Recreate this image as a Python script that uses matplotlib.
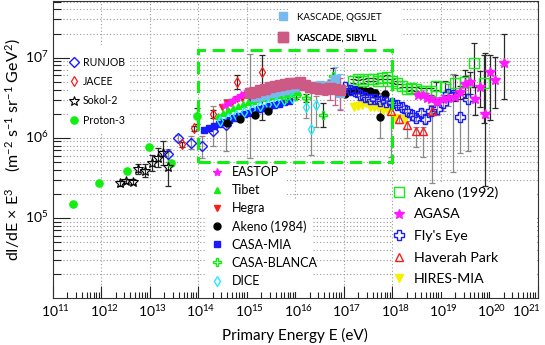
import numpy as np
import matplotlib
matplotlib.use('Agg')
import matplotlib.pyplot as plt
from matplotlib.patches import Rectangle
import matplotlib.transforms as mtrans
from matplotlib.ticker import LogLocator, NullFormatter, FixedLocator, FixedFormatter

plt.rcParams['font.family'] = ['Lato', 'DejaVu Sans']
plt.rcParams['mathtext.fontset'] = 'custom'
plt.rcParams['mathtext.rm'] = 'Lato'
plt.rcParams['mathtext.it'] = 'Lato:italic'
plt.rcParams['mathtext.bf'] = 'Lato:bold'

# ---------------- data (log10 E [eV], log10 flux, errors in dex) ----------------
runjob_logE = [13.38, 13.59, 13.85, 14.07, 14.31, 14.57, 15.08]
runjob_logF = [5.80, 6.00, 5.94, 5.90, 6.09, 6.16, 6.54]
runjob_hi = [0.06, 0.04, 0.08, 0.12, 0.31, 0.33, 0.51]
runjob_lo = [0.10, 0.04, 0.08, 0.15, 0.19, 0.33, 0.79]

jacee_logE = [13.66, 13.91, 14.31, 14.80, 15.31]
jacee_logF = [5.92, 6.12, 6.30, 6.70, 6.82]
jacee_hi = [0.03, 0.03, 0.05, 0.09, 0.21]
jacee_lo = [0.03, 0.03, 0.05, 0.09, 0.60]

sokol_logE = [12.39, 12.52, 12.65, 12.76, 12.91, 13.05, 13.17, 13.27, 13.38]
sokol_logF = [5.43, 5.46, 5.45, 5.61, 5.59, 5.69, 5.75, 5.81, 5.64]
sokol_hi = [0.03, 0.03, 0.03, 0.06, 0.08, 0.10, 0.12, 0.15, 0.20]
sokol_lo = [0.03, 0.03, 0.03, 0.06, 0.08, 0.10, 0.12, 0.15, 0.24]

proton3_logE = [11.42, 11.95, 12.54, 12.99, 13.45, 13.97]
proton3_logF = [5.18, 5.44, 5.58, 5.89, 5.68, 6.27]
proton3_hi = [0, 0, 0, 0, 0, 0.10]
proton3_lo = [0, 0, 0, 0, 0, 0.10]

eastop_logE = [14.56, 14.64, 14.72, 14.80, 14.89, 14.97, 15.05]
eastop_logF = [6.41, 6.44, 6.47, 6.50, 6.53, 6.56, 6.58]

tibet_logE = [14.41, 14.51, 14.62, 14.72, 14.82, 14.92, 15.03, 15.13, 15.24,
              15.34, 15.44, 15.54, 15.65, 15.75, 15.85, 15.95, 16.06]
tibet_logF = [6.275, 6.31, 6.35, 6.375, 6.40, 6.425, 6.45, 6.46, 6.49,
              6.50, 6.51, 6.525, 6.54, 6.55, 6.56, 6.575, 6.575]

hegra_logE = [14.49, 14.59, 14.70, 14.80, 14.90, 15.01, 15.11, 15.21, 15.32,
              15.42, 15.52, 15.62, 15.73]
hegra_logF = [6.39, 6.43, 6.45, 6.48, 6.50, 6.53, 6.55, 6.58, 6.59,
              6.61, 6.64, 6.65, 6.66]

akeno84_logE = [14.60, 14.86, 15.17, 15.44, 17.03, 17.13, 17.23, 17.34, 17.44,
                17.54, 17.65, 17.75, 17.85]
akeno84_logF = [6.18, 6.24, 6.29, 6.34, 6.55, 6.59, 6.60, 6.60, 6.59,
                6.58, 6.56, 6.26, 6.55]
akeno84_hi = [0, 0, 0, 0, 0, 0, 0, 0, 0, 0.03, 0.05, 0.30, 0.10]
akeno84_lo = [0, 0, 0, 0, 0, 0, 0, 0, 0, 0.03, 0.05, 0.26, 0.10]

casamia_logE = [14.12, 14.22, 14.33, 14.43, 14.53, 14.64, 14.74, 14.84, 14.94,
                15.05, 15.15, 15.25, 15.36, 15.46, 15.56, 15.67, 15.77, 15.87]
casamia_logF = [6.10, 6.125, 6.15, 6.175, 6.20, 6.225, 6.25, 6.275, 6.30,
                6.31, 6.34, 6.36, 6.375, 6.40, 6.41, 6.425, 6.45, 6.46]

blanca_logE = [15.81, 16.02, 16.22, 16.57, 16.78]
blanca_logF = [6.50, 6.525, 6.50, 6.29, 6.775]
blanca_hi = [0.04, 0.04, 0.05, 0.14, 0.10]
blanca_lo = [0.04, 0.04, 0.05, 0.16, 0.06]

dice_logE = [14.45, 14.61, 14.78, 14.94, 15.11, 15.27, 15.44, 15.60, 15.77,
             15.93, 16.22, 16.33, 16.43]
dice_logF = [6.21, 6.25, 6.29, 6.325, 6.36, 6.40, 6.425, 6.45, 6.475,
             6.50, 6.39, 6.11, 6.41]
dice_hi = [0, 0, 0, 0, 0, 0, 0, 0, 0, 0, 0.12, 0.52, 0.11]
dice_lo = [0, 0, 0, 0, 0, 0, 0, 0, 0, 0, 0.14, 0.32, 0.28]

qgsjet_logE = [15.17, 15.27, 15.37, 15.48, 15.58, 15.69, 15.79, 15.89, 16.00,
               16.10, 16.20, 16.31, 16.41, 16.51, 16.61, 16.72, 16.82, 16.92]
qgsjet_logF = [6.51, 6.525, 6.54, 6.56, 6.575, 6.59, 6.60, 6.625, 6.64,
               6.65, 6.66, 6.64, 6.65, 6.66, 6.64, 6.66, 6.74, 6.56]
qgsjet_hi = [0.02] * 12 + [0.03, 0.04, 0.06, 0.08, 0.15, 0.24]
qgsjet_lo = [0.02] * 12 + [0.03, 0.04, 0.06, 0.08, 0.12, 0.20]

sibyll_logE = [15.07, 15.17, 15.27, 15.38, 15.48, 15.58, 15.69, 15.79, 15.89,
               16.00, 16.10, 16.20, 16.31, 16.41, 16.51, 16.61, 16.72, 16.82, 16.92]
sibyll_logF = [6.56, 6.575, 6.60, 6.61, 6.64, 6.65, 6.66, 6.675, 6.69,
               6.69, 6.70, 6.66, 6.64, 6.625, 6.61, 6.61, 6.625, 6.61, 6.60]
sibyll_hi = [0.02] * 14 + [0.05, 0.08, 0.10, 0.12, 0.15]
sibyll_lo = [0.02] * 14 + [0.05, 0.08, 0.15, 0.20, 0.25]

akeno92_logE = [17.2, 17.3, 17.4, 17.5, 17.6, 17.7, 17.8, 17.9, 18.0, 18.1, 18.2,
                18.3, 18.4, 18.5, 18.6, 18.7, 18.8, 18.9, 19.1, 19.3, 19.5, 19.7, 19.9]
akeno92_logF = [6.71, 6.74, 6.71, 6.73, 6.73, 6.71, 6.75, 6.76, 6.71, 6.69, 6.65,
                6.61, 6.62, 6.61, 6.59, 6.59, 6.58, 6.65, 6.64, 6.69, 6.70, 6.93, 6.68]
akeno92_hi = [0.02] * 14 + [0.03, 0.03, 0.04, 0.05, 0.07, 0.10, 0.15, 0.25, 0.35]
akeno92_lo = [0.02] * 14 + [0.03, 0.03, 0.04, 0.05, 0.07, 0.12, 0.20, 0.30, 0.50]

agasa_logE = [18.54, 18.63, 18.72, 18.81, 18.93, 19.05, 19.16, 19.29, 19.40,
              19.50, 19.60, 19.71, 19.81, 19.91, 20.02, 20.12, 20.31]
agasa_logF = [6.54, 6.53, 6.50, 6.48, 6.45, 6.48, 6.50, 6.51, 6.57,
              6.67, 6.70, 6.48, 6.64, 6.30, 6.82, 6.72, 6.93]
agasa_hi = [0.02, 0.02, 0.02, 0.02, 0.03, 0.03, 0.04, 0.05, 0.08,
            0.10, 0.12, 0.15, 0.20, 0.76, 0.21, 0.29, 0.37]
agasa_lo = [0.02, 0.02, 0.02, 0.02, 0.03, 0.03, 0.04, 0.05, 0.08,
            0.12, 0.15, 0.20, 0.25, 0.90, 0.60, 0.35, 0.45]

flyseye_logE = [17.03, 17.13, 17.23, 17.34, 17.44, 17.54, 17.65, 17.75, 17.87,
                18.00, 18.10, 18.20, 18.31, 18.41, 18.49, 18.59, 18.68, 18.80,
                18.92, 19.05, 19.15, 19.25, 19.40, 19.56]
flyseye_logF = [6.63, 6.60, 6.58, 6.54, 6.51, 6.49, 6.48, 6.46, 6.45,
                6.44, 6.41, 6.38, 6.34, 6.29, 6.25, 6.31, 6.24, 6.34,
                6.36, 6.43, 6.55, 6.53, 6.26, 6.49]
flyseye_hi = [0.02] * 14 + [0.04, 0.05, 0.06, 0.07, 0.08, 0.10, 0.12, 0.27, 0.30, 0.29]
flyseye_lo = [0.02] * 14 + [0.04, 0.05, 0.06, 0.07, 0.08, 0.10, 0.15, 0.96, 0.45, 0.65]

haverah_logE = [17.98, 18.14, 18.31, 18.49, 18.64, 18.82]
haverah_logF = [6.33, 6.23, 6.16, 6.08, 6.08, 6.33]
haverah_hi = [0.05, 0.05, 0.05, 0.05, 0.06, 0.08]
haverah_lo = [0.57, 0.05, 0.16, 0.20, 0.32, 0.90]

hires_logE = [17.21, 17.29, 17.38, 17.46, 17.54, 17.63, 17.71, 17.81, 17.91, 18.06, 18.26]
hires_logF = [6.38, 6.40, 6.41, 6.43, 6.39, 6.38, 6.38, 6.35, 6.34, 6.25, 6.23]

# knee region box
box_E = (1e14, 1e18)
box_F = (5e5, 1.25e7)

x_ticks = [10.0 ** k for k in range(11, 22)]
x_ticklabels = ['$10^{%d}$' % k for k in range(11, 22)]
y_ticks = [1e5, 1e6, 1e7]
y_ticklabels = ['$10^{5}$', '$10^{6}$', '$10^{7}$']

# ---------------- figure ----------------
W, H = 545, 345
fig = plt.figure(figsize=(W / 100, H / 100), dpi=100)
ax = fig.add_axes([52.7 / W, 1 - 297.7 / H, 484.8 / W, 296.7 / H])
ax.set_xscale('log')
ax.set_yscale('log')
ax.set_xlim(1e11, 1e21)
ax.set_ylim(1.01e4, 5.1e7)
ax.set_axisbelow(True)

GREEN = '#11ee11'
BLUE = '#1a1aff'
RED = '#ff1a1a'
MAG = '#ff1aff'
CYAN = '#22eeff'
YEL = '#f5f000'
QG = '#78b9f0'
SIB = '#cc5a84'
DARK = '#2a2a2a'
GREY = '#8a8a8a'


def series(logE, logF, marker, color, mfc, ms, lo=None, hi=None,
           ecolor=DARK, z=3, mew=1.0):
    E = 10.0 ** np.asarray(logE)
    F = 10.0 ** np.asarray(logF)
    if lo is not None:
        lo = np.asarray(lo, float)
        hi = np.asarray(hi, float)
        m = (lo + hi) > 0
        yerr = [F[m] - F[m] * 10.0 ** (-lo[m]), F[m] * 10.0 ** hi[m] - F[m]]
        ax.errorbar(E[m], F[m], yerr=yerr, fmt='none', ecolor=ecolor,
                    elinewidth=0.9, capsize=2.2, capthick=0.9, zorder=z - 0.5)
    h, = ax.plot(E, F, ls='none', marker=marker, color=color, mfc=mfc, ms=ms,
                 mew=mew, zorder=z)
    return h


h_proton3 = series(proton3_logE, proton3_logF, 'o', GREEN, GREEN, 5.2, proton3_lo, proton3_hi)
h_sokol = series(sokol_logE, sokol_logF, '*', 'black', 'none', 7, sokol_lo, sokol_hi, mew=0.8)
h_runjob = series(runjob_logE, runjob_logF, 'D', BLUE, 'none', 4.6, runjob_lo, runjob_hi, ecolor=GREY, mew=1.0)
h_jacee = series(jacee_logE, jacee_logF, 'd', RED, 'none', 5.5, jacee_lo, jacee_hi, mew=0.9)
h_hegra = series(hegra_logE, hegra_logF, 'v', RED, RED, 5)
h_eastop = series(eastop_logE, eastop_logF, '*', MAG, MAG, 6)
h_tibet = series(tibet_logE, tibet_logF, '^', GREEN, GREEN, 5)
h_casamia = series(casamia_logE, casamia_logF, 's', BLUE, BLUE, 4.8)
h_dice = series(dice_logE, dice_logF, 'd', CYAN, 'none', 5, dice_lo, dice_hi, ecolor=GREY, mew=1.0)
h_akeno84 = series(akeno84_logE, akeno84_logF, 'o', 'black', 'black', 5, akeno84_lo, akeno84_hi, ecolor=GREY)
h_blanca = series(blanca_logE, blanca_logF, 'P', GREEN, 'none', 6, blanca_lo, blanca_hi, mew=1.0)
h_qgsjet = series(qgsjet_logE, qgsjet_logF, 's', QG, QG, 6, qgsjet_lo, qgsjet_hi, ecolor=QG, z=4)
h_sibyll = series(sibyll_logE, sibyll_logF, 's', SIB, SIB, 6.5, sibyll_lo, sibyll_hi, ecolor=SIB, z=4.2)
h_hires = series(hires_logE, hires_logF, 'v', YEL, YEL, 5.5)
h_akeno92 = series(akeno92_logE, akeno92_logF, 's', GREEN, 'none', 6.5, akeno92_lo, akeno92_hi, mew=1.0)
h_flyseye = series(flyseye_logE, flyseye_logF, 'P', BLUE, 'none', 6.5, flyseye_lo, flyseye_hi, ecolor=GREY, mew=1.0)
h_haverah = series(haverah_logE, haverah_logF, '^', RED, 'none', 6, haverah_lo, haverah_hi, ecolor=GREY, mew=1.0)
h_agasa = series(agasa_logE, agasa_logF, '*', MAG, MAG, 7.5, agasa_lo, agasa_hi)

# dashed knee box
ax.add_patch(Rectangle((box_E[0], box_F[0]), box_E[1] - box_E[0], box_F[1] - box_F[0],
                       fill=False, edgecolor=GREEN, lw=2.2, ls=(0, (4, 2.2)), zorder=5))

# grid
ax.grid(True, which='major', axis='x', ls=(0, (1, 2)), color='#9a9a9a', lw=0.8)
ax.grid(True, which='both', axis='y', ls=(0, (1, 2)), color='#9a9a9a', lw=0.8)

# ticks
ax.xaxis.set_major_locator(FixedLocator(x_ticks))
ax.xaxis.set_major_formatter(FixedFormatter(x_ticklabels))
ax.xaxis.set_minor_locator(LogLocator(base=10, subs=np.arange(2, 10), numticks=100))
ax.xaxis.set_minor_formatter(NullFormatter())
ax.yaxis.set_major_locator(FixedLocator(y_ticks))
ax.yaxis.set_major_formatter(FixedFormatter(y_ticklabels))
ax.yaxis.set_minor_locator(LogLocator(base=10, subs=np.arange(2, 10), numticks=100))
ax.yaxis.set_minor_formatter(NullFormatter())
ax.tick_params(axis='both', which='both', direction='in', top=False, right=False,
               color='#222222', width=0.8)
ax.tick_params(axis='x', which='major', length=9, labelsize=10, pad=4)
ax.tick_params(axis='x', which='minor', length=4.5)
ax.tick_params(axis='y', which='major', length=12, labelsize=10, pad=3)
ax.tick_params(axis='y', which='minor', length=6)
for s in ax.spines.values():
    s.set_linewidth(0.8)
    s.set_color('#333333')

offx = mtrans.ScaledTranslation(3 / 100, 0, fig.dpi_scale_trans)
xlabs = ax.get_xticklabels()
for lab in xlabs:
    lab.set_transform(lab.get_transform() + offx)
xlabs[-1].set_horizontalalignment('right')
offy = mtrans.ScaledTranslation(0, 2 / 100, fig.dpi_scale_trans)
for lab in ax.get_yticklabels():
    lab.set_transform(lab.get_transform() + offy)

ax.set_xlabel('Primary Energy E (eV)', fontsize=11, labelpad=6)
ax.set_ylabel('dI/dE × E$^{3}$    (m$^{-2}$ s$^{-1}$ sr$^{-1}$ GeV$^{2}$)', fontsize=11.5)
ax.yaxis.set_label_coords(-0.062, 0.5)

# ---------------- legends ----------------
def px2ax(x, y):
    return (x - 52.7) / 484.8, (297.7 - y) / 296.7


def white_box(x0, y0, x1, y1):
    a0 = px2ax(x0, y1)
    a1 = px2ax(x1, y0)
    ax.add_patch(Rectangle(a0, a1[0] - a0[0], a1[1] - a0[1], transform=ax.transAxes,
                           facecolor='white', edgecolor='none', zorder=1))


white_box(70, 45, 128, 133)
white_box(207, 165, 287, 200)
white_box(207, 200, 313, 292)
white_box(393, 183, 537, 292)
white_box(289, 3, 401, 48)


def legend_rows(handles, labels, marker_x, text_x, first_y, fs, spacing):
    fs_px = fs * 100 / 72
    hl = 1.0
    x0 = marker_x - hl * fs_px / 2
    pad = (text_x - x0 - hl * fs_px) / fs_px
    for i, (h, lab) in enumerate(zip(handles, labels)):
        bx, by = px2ax(x0, first_y + i * spacing)
        leg = ax.legend([h], [lab], loc='center left', bbox_to_anchor=(bx, by),
                        bbox_transform=ax.transAxes, frameon=False, borderpad=0,
                        borderaxespad=0, handlelength=hl, handletextpad=pad,
                        fontsize=fs, numpoints=1)
        leg.set_zorder(6)
        ax.add_artist(leg)


legend_rows([h_runjob, h_jacee, h_sokol, h_proton3],
            ['RUNJOB', 'JACEE', 'Sokol-2', 'Proton-3'], 74, 82.7, 62, 7.6, 19.5)
legend_rows([h_eastop, h_tibet, h_hegra, h_akeno84, h_casamia, h_blanca, h_dice],
            ['EASTOP', 'Tibet', 'Hegra', 'Akeno (1984)', 'CASA-MIA', 'CASA-BLANCA', 'DICE'],
            216.7, 231.7, 172.3, 9, 18.1)
legend_rows([h_akeno92, h_agasa, h_flyseye, h_haverah, h_hires],
            ['Akeno (1992)', 'AGASA', "Fly's Eye", 'Haverah Park', 'HIRES-MIA'],
            399, 414, 193, 10.2, 21.5)
legend_rows([h_qgsjet, h_sibyll], ['KASCADE, QGSJET', 'KASCADE, SIBYLL'],
            283, 297, 17, 7, 21)

fig.savefig('out.png', dpi=100)
